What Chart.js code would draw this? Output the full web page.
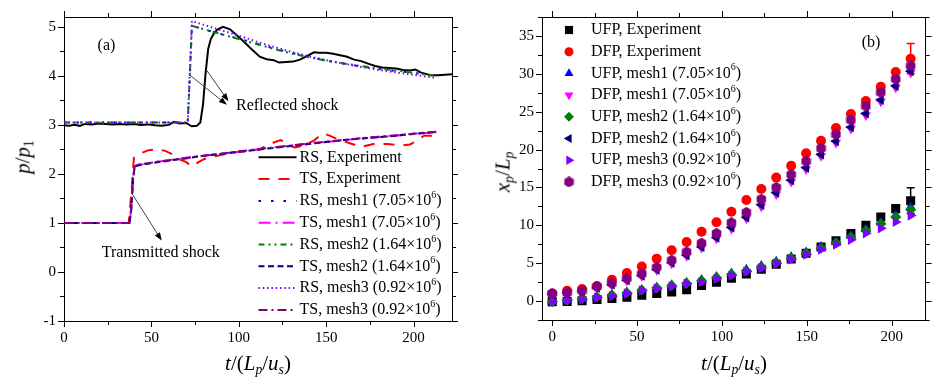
<!DOCTYPE html>
<html lang="en">
<head>
<meta charset="UTF-8">
<title>Shock pressure and front position</title>
<script src="https://cdn.jsdelivr.net/npm/chart.js@4.4.1/dist/chart.umd.min.js"></script>
<style>
  html, body { margin: 0; padding: 0; background: #fff; }
  #wrap { position: relative; width: 932px; height: 382px; font-family: 'Liberation Serif', 'Times New Roman', serif; }
  #wrap canvas { position: absolute; top: 0; }
  .title { position: absolute; font-size: 21px; line-height: 1; white-space: nowrap; transform: translate(-50%, -50%); }
  .title.rot { transform: translate(-50%, -50%) rotate(-90deg); }
  .title sub { font-size: 0.65em; position: relative; top: 0.3em; vertical-align: baseline; }
</style>
</head>
<body>
<div id="wrap">
  <canvas id="chartA" width="470" height="382" style="left:0"></canvas>
  <canvas id="chartB" width="462" height="382" style="left:470px"></canvas>
  <div class="title rot" style="left:23px; top:157px"><i>p</i>/<i>p</i><sub>1</sub></div>
  <div class="title" style="left:258px; top:363px"><i>t</i>/(<i>L<sub>p</sub></i>/<i>u<sub>s</sub></i>)</div>
  <div class="title rot" style="left:503px; top:172px"><i>x<sub>p</sub></i>/<i>L<sub>p</sub></i></div>
  <div class="title" style="left:734px; top:363px"><i>t</i>/(<i>L<sub>p</sub></i>/<i>u<sub>s</sub></i>)</div>
</div>
<script>
// ---- panel (a): pressure histories ----
const rsExpT = [0, 3, 6, 9, 12, 16, 20, 24, 28, 32, 36, 40, 44, 48, 52, 56, 60, 63, 66, 70, 73, 76, 78, 79.5, 81, 82.5, 84, 86, 88, 91, 95, 100, 104, 108, 112, 116, 120, 123, 127, 131, 135, 139, 143, 146, 150, 154, 158, 162, 166, 170, 174, 178, 182, 186, 190, 194, 198, 201, 204, 207, 210, 214, 218, 222];
const rsExpP = [2.99, 2.98, 3.0, 2.98, 3.02, 3.01, 3.03, 3.02, 3.01, 3.02, 3.01, 3.02, 3.0, 3.01, 2.99, 2.98, 3.0, 3.06, 3.03, 3.04, 2.97, 2.98, 3.05, 3.4, 4.05, 4.55, 4.75, 4.88, 4.95, 5.0, 4.95, 4.79, 4.66, 4.52, 4.39, 4.34, 4.32, 4.27, 4.28, 4.29, 4.33, 4.4, 4.48, 4.47, 4.47, 4.45, 4.42, 4.39, 4.33, 4.3, 4.25, 4.2, 4.17, 4.16, 4.15, 4.12, 4.11, 4.13, 4.07, 4.04, 4.01, 4.01, 4.02, 4.03];
const tsExpT = [0, 37, 38.5, 40, 44, 48, 53, 58, 62, 66, 70, 73, 76, 80, 86, 93, 100, 108, 112, 116, 120, 124, 128, 132, 137, 143, 148, 152, 157, 164, 170, 177, 185, 193, 198, 202, 206, 213];
const tsExpP = [1.0, 1.0, 1.6, 2.33, 2.42, 2.48, 2.5, 2.47, 2.4, 2.3, 2.24, 2.15, 2.22, 2.3, 2.36, 2.41, 2.45, 2.48, 2.5, 2.58, 2.64, 2.69, 2.6, 2.54, 2.58, 2.68, 2.83, 2.78, 2.7, 2.62, 2.55, 2.61, 2.61, 2.58, 2.6, 2.68, 2.78, 2.78];
const rsSimT = [0, 70.8, 72, 73.2, 80, 90, 100, 110, 120, 130, 140, 150, 160, 170, 180, 190, 200, 213];
const rsMesh1P = [3.05, 3.05, 4.0, 5.02, 4.95, 4.85, 4.76, 4.66, 4.56, 4.47, 4.39, 4.31, 4.25, 4.19, 4.14, 4.1, 4.06, 4.0];
const rsMesh2P = [3.05, 3.05, 4.0, 5.02, 4.95, 4.85, 4.75, 4.65, 4.55, 4.46, 4.38, 4.31, 4.25, 4.2, 4.15, 4.11, 4.06, 4.0];
const rsMesh3P = [3.05, 3.05, 4.1, 5.12, 5.04, 4.93, 4.82, 4.7, 4.59, 4.49, 4.4, 4.32, 4.25, 4.18, 4.12, 4.07, 4.02, 3.96];
const tsSimT = [0, 37.5, 38.5, 39.5, 40.5, 50, 60, 70, 80, 90, 100, 110, 120, 130, 140, 150, 160, 170, 180, 190, 200, 213];
const tsMesh1P = [1.0, 1.0, 1.3, 1.9, 2.17, 2.23, 2.28, 2.32, 2.37, 2.41, 2.45, 2.5, 2.54, 2.58, 2.62, 2.65, 2.69, 2.72, 2.75, 2.78, 2.81, 2.85];
const tsMesh2P = [1.0, 1.0, 1.28, 1.88, 2.16, 2.22, 2.27, 2.32, 2.37, 2.41, 2.45, 2.49, 2.53, 2.57, 2.61, 2.65, 2.69, 2.72, 2.75, 2.78, 2.82, 2.85];
const tsMesh3P = [1.0, 1.0, 1.32, 1.92, 2.18, 2.23, 2.28, 2.33, 2.37, 2.41, 2.46, 2.5, 2.54, 2.58, 2.62, 2.66, 2.69, 2.73, 2.76, 2.79, 2.82, 2.86];

// ---- panel (b): front positions ----
const bT = [0, 8.8, 17.6, 26.4, 35.2, 44, 52.8, 61.6, 70.4, 79.2, 88, 96.8, 105.6, 114.4, 123.2, 132, 140.8, 149.6, 158.4, 167.2, 176, 184.8, 193.6, 202.4, 211.2];
const ufpExp = [-0.1, -0.05, 0.05, 0.2, 0.35, 0.5, 0.77, 1.0, 1.2, 1.5, 2.05, 2.5, 3.0, 3.57, 4.2, 4.86, 5.55, 6.3, 7.15, 7.95, 8.9, 10.0, 11.1, 12.2, 13.25];
const dfpExp = [1.0, 1.35, 1.6, 2.0, 2.8, 3.7, 4.55, 5.6, 6.7, 7.8, 9.15, 10.4, 11.8, 13.35, 14.8, 16.3, 17.85, 19.5, 21.15, 22.85, 24.7, 26.4, 28.3, 30.25, 32.0];
const ufpMesh1 = [-0.05, 0.15, 0.35, 0.6, 0.85, 1.15, 1.5, 1.8, 2.1, 2.45, 2.8, 3.2, 3.65, 4.15, 4.65, 5.2, 5.8, 6.45, 7.15, 7.85, 8.65, 9.5, 10.4, 11.35, 12.45];
const dfpMesh1 = [0.9, 1.0, 1.25, 1.7, 2.15, 2.7, 3.3, 4.1, 4.95, 5.95, 7.05, 8.25, 9.55, 10.9, 12.5, 14.1, 15.75, 17.4, 19.15, 20.9, 22.75, 24.55, 26.35, 28.2, 30.15];
const ufpMesh2 = [-0.1, 0.1, 0.3, 0.55, 0.8, 1.1, 1.45, 1.75, 2.05, 2.35, 2.7, 3.1, 3.55, 4.0, 4.5, 5.05, 5.65, 6.3, 7.0, 7.7, 8.45, 9.3, 10.2, 11.1, 12.05];
const dfpMesh2 = [0.95, 1.05, 1.3, 1.75, 2.2, 2.75, 3.35, 4.15, 5.05, 6.05, 7.15, 8.35, 9.7, 11.05, 12.7, 14.3, 15.95, 17.6, 19.35, 21.1, 22.95, 24.75, 26.55, 28.4, 30.35];
const ufpMesh3 = [-0.1, 0.13, 0.22, 0.47, 0.65, 1.0, 1.4, 1.64, 1.94, 2.28, 2.5, 2.93, 3.36, 3.91, 4.35, 4.95, 5.5, 6.15, 6.8, 7.45, 8.1, 8.95, 9.6, 10.45, 11.3];
const dfpMesh3 = [1.0, 1.1, 1.35, 1.9, 2.35, 3.0, 3.6, 4.45, 5.4, 6.5, 7.65, 8.95, 10.35, 11.7, 13.45, 15.0, 16.7, 18.45, 20.15, 22.0, 23.9, 25.75, 27.55, 29.3, 31.05];
const ufpExpErr = [0, 0, 0, 0, 0, 0, 0, 0, 0, 0, 0, 0, 0, 0, 0, 0, 0, 0, 0, 0, 0, 0, 0, 0, 1.7];
const dfpExpErr = [0, 0, 0, 0, 0, 0, 0, 0, 0, 0, 0, 0, 0, 0, 0, 0, 0, 0, 0, 0, 0, 0, 0, 0, 2.0];

const SERIF = "'Liberation Serif', 'Times New Roman', serif";
Chart.defaults.font.family = SERIF;
Chart.defaults.color = '#000';

function isMajor(v, major) {
    return Math.abs(v / major - Math.round(v / major)) < 1e-6;
}

function axis(pos, min, max, step, major, size, showLabels) {
    return {
        type: 'linear', position: pos, min: min, max: max,
        grid: { drawOnChartArea: false, drawTicks: false, color: '#000' },
        border: { display: true, color: '#000', width: 1 },
        ticks: {
            display: showLabels, stepSize: step, autoSkip: false, includeBounds: false, maxRotation: 0,
            padding: 8, color: '#000', font: { family: SERIF, size: 15 },
            callback: v => isMajor(v, major) ? String(Math.round(v)) : ''
        },
        afterFit: s => { if (s.isHorizontal()) s.height = size; else s.width = size; }
    };
}

// outward tick marks on all four sides
const frameTicks = {
    id: 'frameTicks',
    afterDraw(chart, args, opts) {
        const ctx = chart.ctx;
        ctx.save();
        ctx.strokeStyle = '#000';
        ctx.lineWidth = 1;
        ctx.beginPath();
        Object.values(chart.scales).forEach(s => {
            const major = s.isHorizontal() ? opts.xMajor : opts.yMajor;
            s.ticks.forEach(t => {
                const len = isMajor(t.value, major) ? 6 : 4;
                const p = Math.round(s.getPixelForValue(t.value)) + 0.5;
                const pos = s.options.position;
                if (pos === 'bottom') { const y = chart.chartArea.bottom; ctx.moveTo(p, y); ctx.lineTo(p, y + len); }
                if (pos === 'top') { const y = chart.chartArea.top; ctx.moveTo(p, y); ctx.lineTo(p, y - len); }
                if (pos === 'left') { const x = chart.chartArea.left; ctx.moveTo(x, p); ctx.lineTo(x - len, p); }
                if (pos === 'right') { const x = chart.chartArea.right; ctx.moveTo(x, p); ctx.lineTo(x + len, p); }
            });
        });
        ctx.stroke();
        ctx.restore();
    }
};

function lineSet(label, xs, ys, color, dash, i) {
    return {
        label: label, data: xs.map((x, k) => ({ x: x, y: ys[k] })),
        borderColor: color, borderWidth: 2, borderDash: dash, pointRadius: 0,
        fill: false, tension: 0, order: 10 - i
    };
}

function hexagon(size, color) {
    const c = document.createElement('canvas');
    c.width = c.height = size;
    const g = c.getContext('2d');
    g.fillStyle = color;
    g.beginPath();
    for (let k = 0; k < 6; k++) {
        const a = -Math.PI / 2 + k * Math.PI / 3;
        const px = size / 2 + Math.cos(a) * size / 2, py = size / 2 + Math.sin(a) * size / 2;
        if (k === 0) g.moveTo(px, py); else g.lineTo(px, py);
    }
    g.closePath();
    g.fill();
    return c;
}

function markSet(label, ys, color, style, radius, rotation, i) {
    return {
        label: label, data: bT.map((x, k) => ({ x: x, y: ys[k] })),
        pointStyle: style, pointRadius: radius, pointRotation: rotation,
        pointBackgroundColor: color, pointBorderColor: color, pointBorderWidth: 0,
        showLine: false, order: 10 - i
    };
}

// label text, '^' marks a superscript character
function drawLabel(ctx, text, x, y, size) {
    const parts = text.split('^');
    ctx.font = size + 'px ' + SERIF;
    ctx.fillText(parts[0], x, y);
    if (parts.length > 1) {
        const w = ctx.measureText(parts[0]).width;
        const sup = parts[1].charAt(0), rest = parts[1].slice(1);
        ctx.font = Math.round(size * 0.65) + 'px ' + SERIF;
        ctx.fillText(sup, x + w, y - size * 0.35);
        const ws = ctx.measureText(sup).width;
        ctx.font = size + 'px ' + SERIF;
        ctx.fillText(rest, x + w + ws, y);
    }
}

const innerLegend = {
    id: 'innerLegend',
    afterDraw(chart, args, opts) {
        const ctx = chart.ctx;
        ctx.save();
        ctx.textBaseline = 'middle';
        chart.data.datasets.forEach((ds, i) => {
            const y = opts.y + i * opts.row;
            ctx.save();
            if (opts.kind === 'line') {
                ctx.strokeStyle = ds.borderColor;
                ctx.lineWidth = ds.borderWidth;
                ctx.setLineDash(ds.borderDash || []);
                ctx.beginPath();
                ctx.moveTo(opts.markX - opts.sample / 2, y);
                ctx.lineTo(opts.markX + opts.sample / 2, y);
                ctx.stroke();
            } else if (Chart.helpers && Chart.helpers.drawPoint) {
                ctx.fillStyle = ds.pointBackgroundColor;
                ctx.strokeStyle = ds.pointBorderColor;
                Chart.helpers.drawPoint(ctx, { pointStyle: ds.pointStyle, radius: ds.pointRadius * 0.9, rotation: ds.pointRotation || 0, borderWidth: 0 }, opts.markX, y);
            }
            ctx.restore();
            ctx.fillStyle = '#000';
            drawLabel(ctx, ds.label, opts.textX, y, opts.size);
        });
        ctx.restore();
    }
};

function arrow(ctx, x1, y1, x2, y2) {
    const a = Math.atan2(y2 - y1, x2 - x1), L = 8, W = 3;
    ctx.strokeStyle = '#404040';
    ctx.lineWidth = 1;
    ctx.beginPath();
    ctx.moveTo(x1, y1);
    ctx.lineTo(x2 - Math.cos(a) * L * 0.6, y2 - Math.sin(a) * L * 0.6);
    ctx.stroke();
    ctx.fillStyle = '#000';
    ctx.beginPath();
    ctx.moveTo(x2, y2);
    ctx.lineTo(x2 - L * Math.cos(a) + W * Math.sin(a), y2 - L * Math.sin(a) - W * Math.cos(a));
    ctx.lineTo(x2 - L * Math.cos(a) - W * Math.sin(a), y2 - L * Math.sin(a) + W * Math.cos(a));
    ctx.closePath();
    ctx.fill();
}

// notes and arrows are placed in data units
const notes = {
    id: 'notes',
    afterDraw(chart, args, opts) {
        const ctx = chart.ctx, sx = chart.scales.x, sy = chart.scales.y;
        ctx.save();
        (opts.arrows || []).forEach(r => arrow(ctx, sx.getPixelForValue(r.x1), sy.getPixelForValue(r.y1), sx.getPixelForValue(r.x2), sy.getPixelForValue(r.y2)));
        ctx.fillStyle = '#000';
        ctx.textBaseline = 'middle';
        ctx.textAlign = 'left';
        ctx.font = '16px ' + SERIF;
        (opts.texts || []).forEach(t => ctx.fillText(t.text, sx.getPixelForValue(t.x), sy.getPixelForValue(t.y)));
        ctx.restore();
    }
};

const errorBars = {
    id: 'errorBars',
    afterDatasetDraw(chart, args) {
        const ds = chart.data.datasets[args.index];
        if (!ds.errors) return;
        const ctx = chart.ctx, sx = chart.scales.x, sy = chart.scales.y;
        ctx.save();
        ctx.strokeStyle = ds.pointBackgroundColor;
        ctx.lineWidth = 1.5;
        ds.errors.forEach((e, k) => {
            if (!e) return;
            const px = sx.getPixelForValue(ds.data[k].x);
            const top = sy.getPixelForValue(ds.data[k].y + e), bot = sy.getPixelForValue(ds.data[k].y - e);
            ctx.beginPath();
            ctx.moveTo(px, top); ctx.lineTo(px, bot);
            ctx.moveTo(px - 4, top); ctx.lineTo(px + 4, top);
            ctx.moveTo(px - 4, bot); ctx.lineTo(px + 4, bot);
            ctx.stroke();
        });
        ctx.restore();
    }
};

new Chart(document.getElementById('chartA'), {
    type: 'line',
    data: {
        datasets: [
            lineSet('RS, Experiment', rsExpT, rsExpP, '#000000', [], 0),
            lineSet('TS, Experiment', tsExpT, tsExpP, '#FF0000', [11, 9], 1),
            lineSet('RS, mesh1 (7.05×10^6)', rsSimT, rsMesh1P, '#0000FF', [2.5, 10], 2),
            lineSet('TS, mesh1 (7.05×10^6)', tsSimT, tsMesh1P, '#FF00FF', [12, 5, 2, 5], 3),
            lineSet('RS, mesh2 (1.64×10^6)', rsSimT, rsMesh2P, '#008000', [6, 4, 2, 4, 2, 4], 4),
            lineSet('TS, mesh2 (1.64×10^6)', tsSimT, tsMesh2P, '#000080', [6, 3.5], 5),
            lineSet('RS, mesh3 (0.92×10^6)', rsSimT, rsMesh3P, '#8000FF', [1.5, 2.8], 6),
            lineSet('TS, mesh3 (0.92×10^6)', tsSimT, tsMesh3P, '#800080', [9, 4, 2, 4], 7)
        ]
    },
    options: {
        responsive: false, animation: false, events: [],
        layout: { padding: 0 },
        scales: {
            x: axis('bottom', 0, 222, 25, 50, 61, true),
            x2: axis('top', 0, 222, 25, 50, 11, false),
            y: axis('left', -1, 5.2, 0.5, 1, 64, true),
            y2: axis('right', -1, 5.2, 0.5, 1, 18, false)
        },
        plugins: {
            legend: { display: false },
            tooltip: { enabled: false },
            frameTicks: { xMajor: 50, yMajor: 1 },
            innerLegend: { kind: 'line', markX: 277.5, sample: 38, textX: 299.5, y: 157.3, row: 21.8, size: 16 },
            notes: {
                texts: [
                    { text: '(a)', x: 19.2, y: 4.61 },
                    { text: 'Reflected shock', x: 98.4, y: 3.38 },
                    { text: 'Transmitted shock', x: 21.6, y: 0.385 }
                ],
                arrows: [
                    { x1: 72.2, y1: 4.01, x2: 93.2, y2: 3.41 },
                    { x1: 81.7, y1: 4.11, x2: 94.1, y2: 3.48 },
                    { x1: 38.7, y1: 1.61, x2: 55.9, y2: 0.64 }
                ]
            }
        }
    },
    plugins: [frameTicks, innerLegend, notes]
});

const ufpExpSet = markSet('UFP, Experiment', ufpExp, '#000000', 'rect', 6.4, 0, 0);
ufpExpSet.errors = ufpExpErr;
const dfpExpSet = markSet('DFP, Experiment', dfpExp, '#FF0000', 'circle', 5, 0, 1);
dfpExpSet.errors = dfpExpErr;

new Chart(document.getElementById('chartB'), {
    type: 'scatter',
    data: {
        datasets: [
            ufpExpSet,
            dfpExpSet,
            markSet('UFP, mesh1 (7.05×10^6)', ufpMesh1, '#0000FF', 'triangle', 5.8, 0, 2),
            markSet('DFP, mesh1 (7.05×10^6)', dfpMesh1, '#FF00FF', 'triangle', 5.8, 180, 3),
            markSet('UFP, mesh2 (1.64×10^6)', ufpMesh2, '#008000', 'rectRot', 5.5, 0, 4),
            markSet('DFP, mesh2 (1.64×10^6)', dfpMesh2, '#000080', 'triangle', 5.8, 270, 5),
            markSet('UFP, mesh3 (0.92×10^6)', ufpMesh3, '#8000FF', 'triangle', 6, 90, 6),
            markSet('DFP, mesh3 (0.92×10^6)', dfpMesh3, '#800080', hexagon(11, '#800080'), 5.5, 0, 7)
        ]
    },
    options: {
        responsive: false, animation: false, events: [],
        layout: { padding: 0 },
        scales: {
            x: axis('bottom', -6, 220, 25, 50, 62, true),
            x2: axis('top', -6, 220, 25, 50, 11, false),
            y: axis('left', -2.5, 37.5, 2.5, 5, 72, true),
            y2: axis('right', -2.5, 37.5, 2.5, 5, 6, false)
        },
        plugins: {
            legend: { display: false },
            tooltip: { enabled: false },
            frameTicks: { xMajor: 50, yMajor: 5 },
            innerLegend: { kind: 'point', markX: 99, sample: 0, textX: 121, y: 30, row: 21.7, size: 16 },
            notes: { texts: [{ text: '(b)', x: 182.4, y: 34.03 }], arrows: [] }
        }
    },
    plugins: [frameTicks, innerLegend, notes, errorBars]
});
</script>
</body>
</html>
